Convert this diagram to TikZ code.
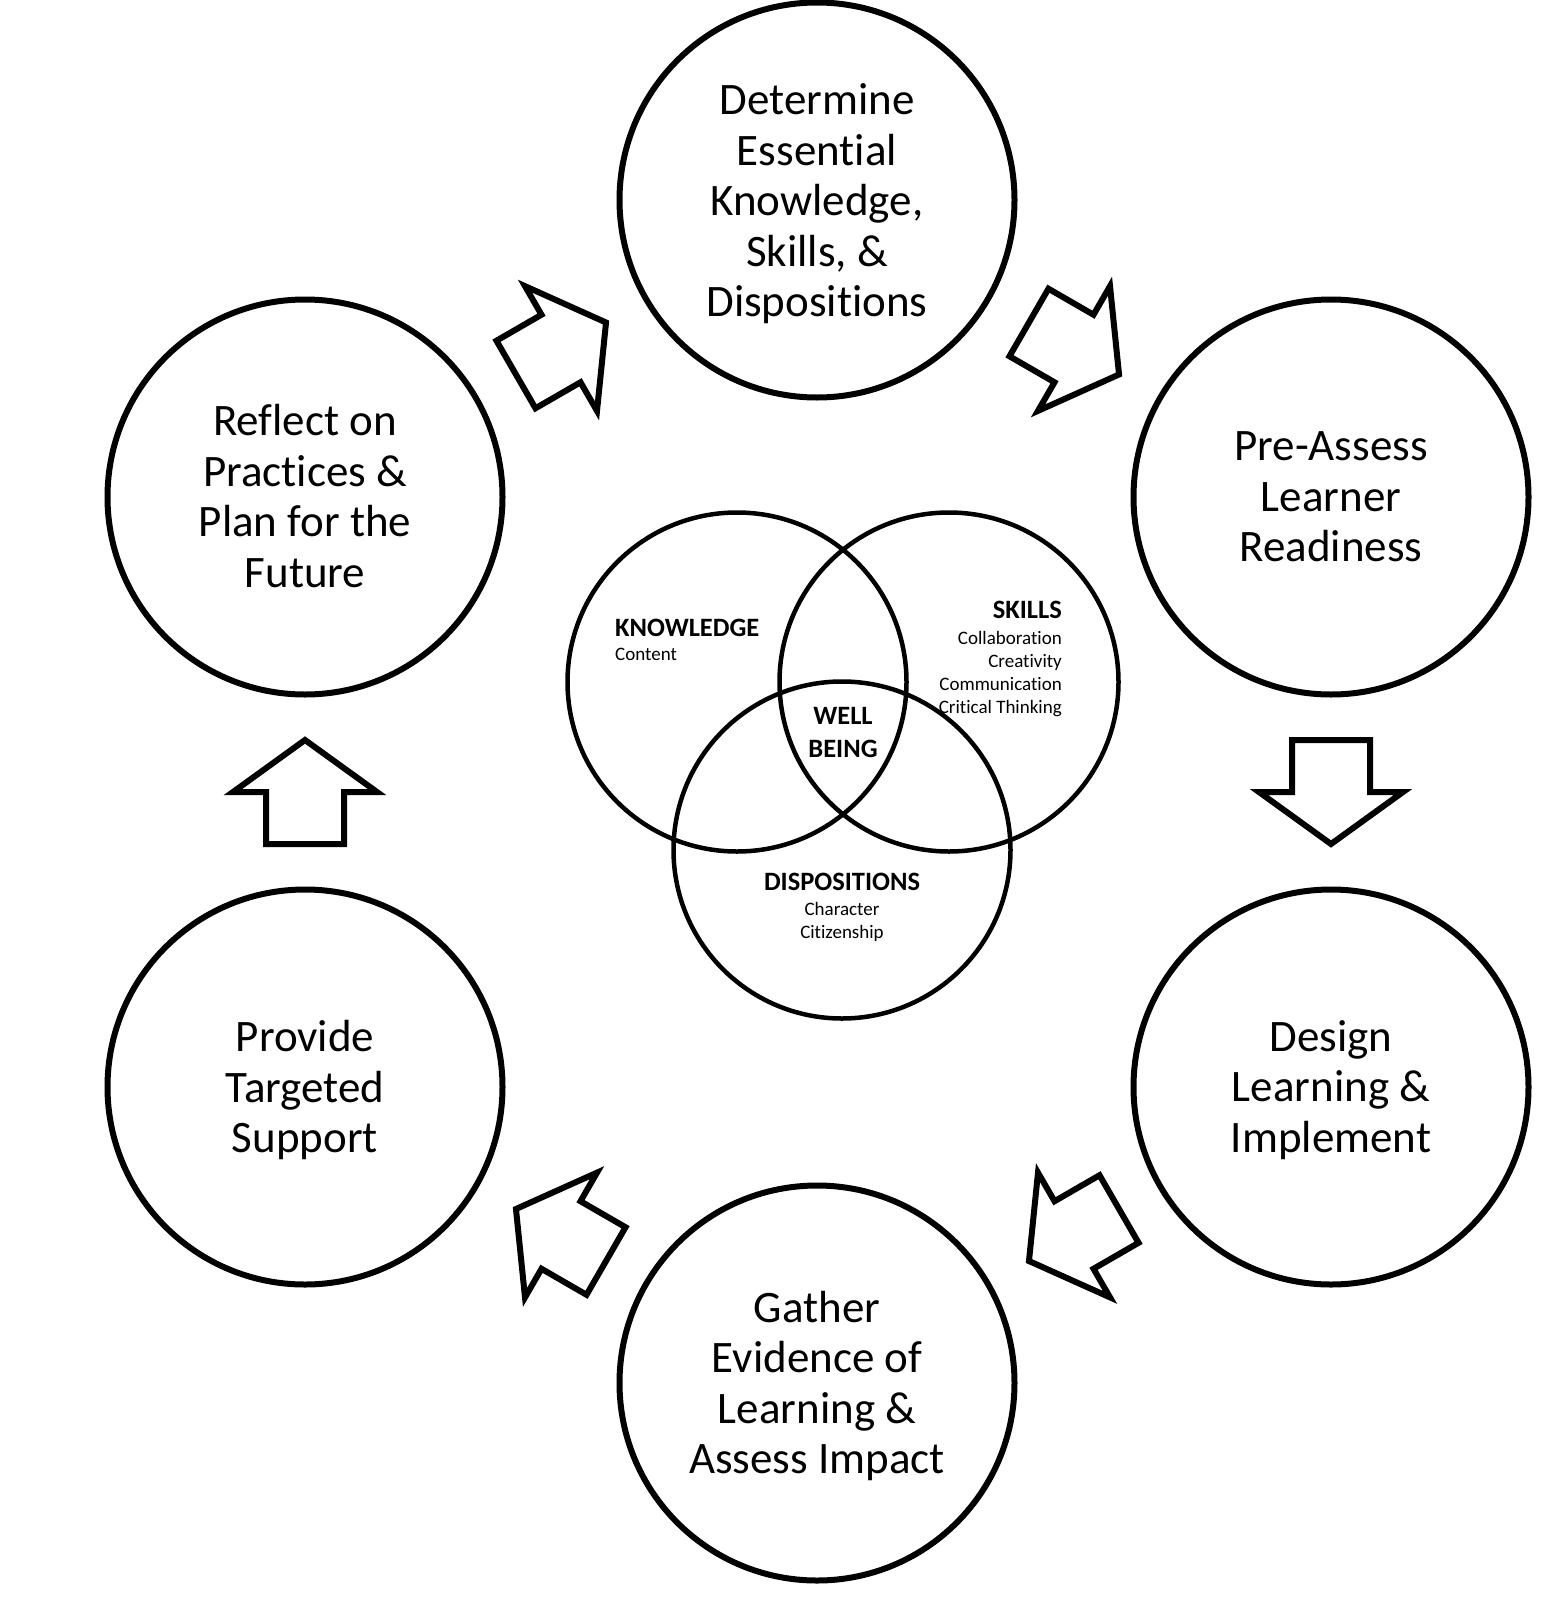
\documentclass[tikz,border=0pt]{standalone}
\usepackage{fontspec}
\setmainfont[Ligatures=NoCommon, RawFeature={-clig;-calt}]{Carlito}
\usetikzlibrary{calc}
\begin{document}
\begin{tikzpicture}[x=1pt,y=1pt,
  bigc/.style={draw, line width=6pt, circle, minimum size=395pt, inner sep=0pt},
  bigt/.style={inner sep=0pt, align=center, font=\fontsize{45}{50.5}\selectfont},
  vennc/.style={draw, line width=4.5pt, circle, minimum size=#1, inner sep=0pt},
  head/.style={inner sep=0pt, font=\fontsize{26.5}{30}\selectfont\bfseries},
  small/.style={inner sep=0pt, font=\fontsize{19}{23}\selectfont},
  arrowline/.style={draw, line width=6pt, line join=miter, fill=white},
  blockarrow/.pic={\path[arrowline] (-52,39) -- (0,39) -- (0,72) -- (52,0) -- (0,-72) -- (0,-39) -- (-52,-39) -- cycle;}
]
\useasboundingbox (0,0) rectangle (1551,-1600);
% big circles
\node[bigc] (top) at (817,-200) {};
\node[bigc] (ru) at (1331,-497) {};
\node[bigc] (rl) at (1331,-1087) {};
\node[bigc] (bot) at (817,-1383) {};
\node[bigc] (ll) at (305,-1087) {};
\node[bigc] (lu) at (305,-497) {};
\node[bigt] (topt) at ([yshift=-4pt]top.center) {Determine\\Essential\\Knowledge,\\Skills, \&\\Dispositions};
\node[bigt] (rut) at ([yshift=0pt]ru.center) {Pre-Assess\\Learner\\Readiness};
\node[bigt] (rlt) at ([yshift=-3pt]rl.center) {Design\\Learning \&\\Implement};
\node[bigt] (bott) at ([yshift=-3pt]bot.center) {Gather\\Evidence of\\Learning \&\\Assess Impact};
\node[bigt] (llt) at ([yshift=-3pt]ll.center) {Provide\\Targeted\\Support};
\node[bigt] (lut) at ([yshift=1pt]lu.center) {Reflect on\\Practices \&\\Plan for the\\Future};
% block arrows
\path ($(lu)!0.5!(top)$) pic[rotate=30] {blockarrow};
\path ($(top)!0.5!(ru)$) pic[rotate=-30] {blockarrow};
\path ($(ru)!0.5!(rl)$) pic[rotate=-90] {blockarrow};
\path ($(rl)!0.5!(bot)$) pic[rotate=-150] {blockarrow};
\path ($(bot)!0.5!(ll)$) pic[rotate=150] {blockarrow};
\path ($(ll)!0.5!(lu)$) pic[rotate=90] {blockarrow};
% venn
\node[vennc=339pt] (vk) at (737,-682) {};
\node[vennc=339pt] (vs) at (949,-682) {};
\node[vennc=337pt] (vd) at (842,-850) {};
\node[head, anchor=base west] (tk) at (615,-636) {KNOWLEDGE};
\node[small, anchor=base west] (tk1) at (615,-660) {Content};
\node[head, anchor=base east] (ts) at (1062,-618) {SKILLS};
\node[small, anchor=base east] (ts1) at (1062,-644) {Collaboration};
\node[small, anchor=base east] (ts2) at (1062,-667) {Creativity};
\node[small, anchor=base east] (ts3) at (1062,-690) {Communication};
\node[small, anchor=base east] (ts4) at (1062,-713) {Critical Thinking};
\node[head, anchor=base] (tw1) at (843,-724) {WELL};
\node[head, anchor=base] (tw2) at (843,-757) {BEING};
\node[head, anchor=base] (td) at (842,-890) {DISPOSITIONS};
\node[small, anchor=base] (td1) at (842,-915) {Character};
\node[small, anchor=base] (td2) at (842,-938) {Citizenship};
\end{tikzpicture}
\end{document}
